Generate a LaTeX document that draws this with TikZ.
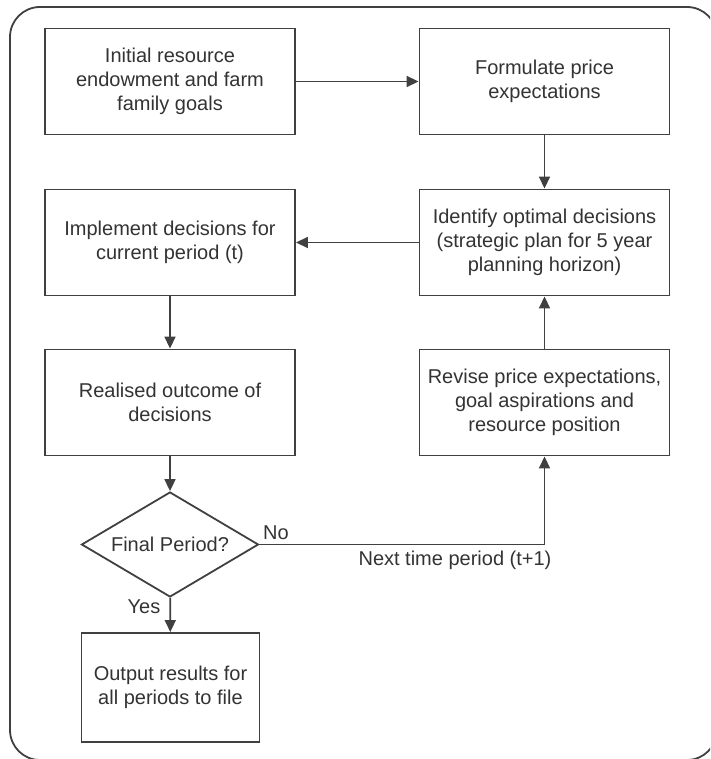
\documentclass[tikz,border=0pt]{standalone}
\usepackage{fontspec}
\setmainfont{Liberation Sans}
\usetikzlibrary{shapes.geometric,arrows.meta}
\definecolor{ln}{rgb}{0.25,0.25,0.25}
\definecolor{tx}{rgb}{0.2,0.2,0.2}
\begin{document}
\begin{tikzpicture}[x=1pt,y=-1pt,
  box/.style={draw=ln, line width=1.9pt, fill=white, text=tx, align=center,
    minimum width=250pt, minimum height=106pt, inner sep=0pt,
    font=\fontsize{20}{24}\selectfont},
  dec/.style={diamond, draw=ln, line width=1.8pt, text=tx, align=center,
    shape aspect=1.686, minimum width=177pt, minimum height=105pt, inner sep=0pt,
    font=\fontsize{20}{24}\selectfont},
  arr/.style={draw=ln, line width=1.7pt, -{Triangle[length=12pt,width=11pt]}},
  lbl/.style={text=tx, inner sep=0pt, font=\fontsize{20}{24}\selectfont}]
\useasboundingbox (0,0) rectangle (710,759);
\clip (0,0) rectangle (710,759);
\draw[ln, line width=1.8pt, rounded corners=30pt] (10,7) rectangle (717,760);

\node[box] (b1) at (170,81.5) {Initial resource\\endowment and farm\\family goals};
\node[box] (b2) at (544.5,81.5) {Formulate price\\expectations};
\node[box] (b3) at (544.5,242.5) {Identify optimal decisions\\(strategic plan for 5 year\\planning horizon)};
\node[box] (b4) at (170,242.5) {Implement decisions for\\current period (t)};
\node[box] (b5) at (170,402.5) {Realised outcome of\\decisions};
\node[box] (b6) at (544.5,402.5) {Revise price expectations,\\goal aspirations and\\resource position};
\node[dec] (d) at (170,544.5) {Final Period?};
\node[box, minimum width=178pt, minimum height=109pt] (b7) at (170.5,687.5) {Output results for\\all periods to file};

\draw[arr] (b1) -- (b2);
\draw[arr] (b2) -- (b3);
\draw[arr] (b3) -- (b4);
\draw[arr] (b4) -- (b5);
\draw[arr] (b5) -- (d);
\draw[arr] (d) -- (b7);
\draw[arr] (d.east) -- (d.east -| b6.south) -- (b6.south);
\draw[arr] (b6) -- (b3);

\node[lbl] (no) at (276,533) {No};
\node[lbl] (next) at (455,560) {Next time period (t+1)};
\node[lbl] (yes) at (144,607) {Yes};
\end{tikzpicture}
\end{document}
